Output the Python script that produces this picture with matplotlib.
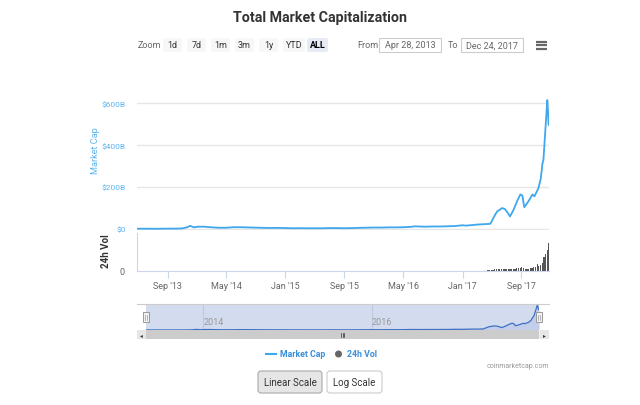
import numpy as np
import pandas as pd
import matplotlib
matplotlib.use("Agg")
import matplotlib.pyplot as plt
import matplotlib.dates as mdates
from matplotlib.patches import FancyBboxPatch, Rectangle, Circle

plt.rcParams['font.family'] = ['Roboto', 'DejaVu Sans']

# Total market cap (billions USD)
cap_dates = ['2013-04-28', '2013-06-01', '2013-07-01', '2013-08-01', '2013-09-01', '2013-10-01',
             '2013-11-01', '2013-11-20', '2013-12-04', '2013-12-18', '2014-01-05', '2014-02-01',
             '2014-03-01', '2014-04-01', '2014-05-01', '2014-06-01', '2014-07-01', '2014-08-01',
             '2014-09-01', '2014-10-01', '2014-11-01', '2014-12-01', '2015-01-01', '2015-02-01',
             '2015-03-01', '2015-04-01', '2015-05-01', '2015-06-01', '2015-07-01', '2015-08-01',
             '2015-09-01', '2015-10-01', '2015-11-01', '2015-12-01', '2016-01-01', '2016-02-01',
             '2016-03-01', '2016-04-01', '2016-05-01', '2016-06-01', '2016-06-18', '2016-07-01',
             '2016-08-01', '2016-09-01', '2016-10-01', '2016-11-01', '2016-12-01', '2017-01-01',
             '2017-01-15', '2017-02-01', '2017-02-15', '2017-03-01', '2017-03-15', '2017-04-01',
             '2017-04-15', '2017-04-26', '2017-05-17', '2017-05-25', '2017-06-01', '2017-06-14',
             '2017-06-25', '2017-07-05', '2017-07-16', '2017-07-30', '2017-08-15', '2017-08-28',
             '2017-09-05', '2017-09-13', '2017-09-30', '2017-10-17', '2017-10-25', '2017-11-10',
             '2017-11-20', '2017-11-27', '2017-12-01', '2017-12-09', '2017-12-17', '2017-12-20',
             '2017-12-22', '2017-12-24']
cap_values = [1.6, 1.4, 1.1, 1.3, 1.7, 1.8,
              2.7, 8, 15, 8, 11, 11,
              8, 6, 6, 8.5, 8.5, 7.5,
              6.5, 5.5, 5, 5.3, 4.4, 3.5,
              3.9, 3.6, 3.6, 3.5, 4.5, 4.3,
              3.8, 4.2, 5.5, 6.2, 7, 6.9,
              7.8, 7.8, 8.5, 10, 13, 12,
              11, 12, 12, 13, 14, 18,
              16, 18, 19, 21, 22, 23,
              24, 25, 71, 85, 90, 100,
              95, 80, 60, 90, 135, 165,
              160, 104, 132, 165, 156, 194,
              240, 312, 330, 473, 615, 560,
              500, 496]

# 24h volume (billions USD), weekly through 2017, quarterly before
vol_dates_early = ['2013-05-01', '2013-08-01', '2013-11-01', '2013-12-01', '2014-03-01', '2014-06-01',
                   '2014-09-01', '2014-12-01', '2015-03-01', '2015-06-01', '2015-09-01', '2015-12-01',
                   '2016-03-01', '2016-06-01', '2016-09-01', '2016-12-01']
vol_values_early = [0.05, 0.05, 0.2, 0.4, 0.1, 0.1,
                    0.05, 0.05, 0.05, 0.05, 0.05, 0.1,
                    0.1, 0.2, 0.1, 0.15]
vol_values_2017 = [0.4, 0.5, 0.3, 0.3, 0.3, 0.3, 0.3, 0.4, 0.5, 0.6, 0.6, 0.5, 0.7,
                   0.6, 0.6, 0.8, 0.9, 1.2, 1.5, 2.5, 3.0, 3.5, 3.0, 3.5, 3, 3,
                   2.5, 2.5, 3, 2.5, 3, 3.5, 4.5, 5, 5, 5.5, 4.5, 3, 3,
                   3.5, 4, 5, 6, 6, 10, 7, 8, 12, 20, 25, 30, 40]

tick_dates = ['2013-09-01', '2014-05-01', '2015-01-01', '2015-09-01', '2016-05-01', '2017-01-01', '2017-09-01']
cap_ticks = [0, 200, 400, 600]
cap_tick_labels = ['$0', '$200B', '$400B', '$600B']
nav_year_ticks = ['2014-01-01', '2016-01-01']
zoom_buttons = ['1d', '7d', '1m', '3m', '1y', 'YTD', 'ALL']
date_from = 'Apr 28, 2013'
date_to = 'Dec 24, 2017'

cap_x = pd.to_datetime(cap_dates)
vol_x = list(pd.to_datetime(vol_dates_early)) + list(pd.date_range('2017-01-01', periods=len(vol_values_2017), freq='7D'))
vol_y = vol_values_early + vol_values_2017
x0, x1 = pd.Timestamp('2013-04-28'), pd.Timestamp('2017-12-24')

W, H = 640, 406
fig = plt.figure(figsize=(6.4, 4.06), dpi=100)


def px_axes(left, top, right, bottom, **kw):
    return fig.add_axes([left / W, 1 - bottom / H, (right - left) / W, (bottom - top) / H], **kw)


line_c = '#3fa7ee'
axis_c = '#ccd6eb'
grid_c = '#e6e6e6'
label_c = '#5bb5f0'
px_per_200 = 41.9

# main market cap pane
ax = px_axes(137, 90, 549, 231)
ax.plot(cap_x, cap_values, color=line_c, linewidth=1.3)
ax.set_xlim(x0, x1)
ax.set_ylim(-200 * 1 / px_per_200, 200 * 140 / px_per_200)
ax.set_yticks(cap_ticks)
ax.set_yticklabels(cap_tick_labels, color=label_c, fontsize=6)
ax.tick_params(axis='y', length=0, pad=8)
ax.grid(axis='y', color=grid_c, linewidth=1)
ax.set_axisbelow(True)
ax.set_xticks(pd.to_datetime(tick_dates))
ax.tick_params(axis='x', length=0, labelbottom=False)
for s in ax.spines.values():
    s.set_visible(False)
ax.set_ylabel('Market Cap', color=label_c, fontsize=6.6)
ax.yaxis.set_label_coords(-0.09, 0.57)

# volume pane
axv = px_axes(137, 234, 549, 272)
axv.bar(vol_x, vol_y, width=5, color='#555555', linewidth=0)
axv.set_xlim(x0, x1)
axv.set_ylim(0, 55)
axv.set_yticks([0])
axv.tick_params(axis='y', length=0, labelsize=6.5, labelcolor='#666666', pad=9)
axv.set_xticks(pd.to_datetime(tick_dates))
axv.xaxis.set_major_formatter(mdates.DateFormatter("%b '%y"))
axv.tick_params(axis='x', length=5, color=axis_c, labelsize=6.5, labelcolor='#666666', pad=2)
for k in ['top', 'right']:
    axv.spines[k].set_visible(False)
axv.spines['left'].set_color(axis_c)
axv.spines['bottom'].set_color(axis_c)
axv.set_ylabel('24h Vol', color='#333333', fontsize=7, fontweight='bold')
axv.yaxis.set_label_coords(-0.064, 0.56)

# navigator
axn = px_axes(146, 305, 539, 331)
axn.set_facecolor('#d3dbee')
axn.fill_between(cap_x, cap_values, color='#c3cfea', linewidth=0)
axn.plot(cap_x, cap_values, color='#3d6fc4', linewidth=0.9)
axn.set_xlim(x0, x1)
axn.set_ylim(0, 640)
axn.set_xticks(pd.to_datetime(nav_year_ticks))
axn.grid(axis='x', color='#bfc8dd', linewidth=0.8)
axn.xaxis.set_major_formatter(mdates.DateFormatter('%Y'))
axn.tick_params(axis='x', length=0, labelsize=6.5, labelcolor='#999999', direction='in', pad=-9)
for lab in axn.get_xticklabels():
    lab.set_horizontalalignment('left')
axn.set_yticks([])
for s in axn.spines.values():
    s.set_visible(False)

# overlay in pixel coordinates for the widgets
ov = fig.add_axes([0, 0, 1, 1], zorder=10)
ov.set_xlim(0, W)
ov.set_ylim(H, 0)
ov.axis('off')
ov.patch.set_visible(False)

ov.text(320, 18, 'Total Market Capitalization', ha='center', va='center', fontsize=10.3,
        fontweight='bold', color='#333333')

ov.text(138, 46, 'Zoom', ha='left', va='center', fontsize=6.5, color='#666666')
bx = [163, 187, 211, 235, 259, 283, 307]
bw = [19, 19, 19, 19, 19, 22, 21]
for lab, xb, wb in zip(zoom_buttons, bx, bw):
    sel = lab == 'ALL'
    ov.add_patch(FancyBboxPatch((xb, 39), wb, 14, boxstyle='round,pad=0,rounding_size=2',
                                facecolor='#e6ebf5' if sel else '#f7f7f7', edgecolor='none'))
    ov.text(xb + wb / 2, 46, lab, ha='center', va='center', fontsize=6.5,
            color='#000000' if sel else '#333333', fontweight='bold' if sel else 'normal')
ov.text(357, 46, 'From', ha='left', va='center', fontsize=6.5, color='#666666')
ov.add_patch(Rectangle((379, 39), 62, 14, facecolor='white', edgecolor='#cccccc', linewidth=0.8))
ov.text(410, 46, date_from, ha='center', va='center', fontsize=6.5, color='#666666')
ov.text(448, 46, 'To', ha='left', va='center', fontsize=6.5, color='#666666')
ov.add_patch(Rectangle((461, 39), 62, 14, facecolor='white', edgecolor='#cccccc', linewidth=0.8))
ov.text(492, 46, date_to, ha='center', va='center', fontsize=6.5, color='#666666')
for yy in [42.5, 46, 49.5]:
    ov.plot([536, 547], [yy, yy], color='#666666', linewidth=1.6, solid_capstyle='butt')

# navigator outline, handles, scrollbar
ov.plot([137, 549], [305, 305], color='#cccccc', linewidth=0.8)
for hx in [146, 539]:
    ov.add_patch(Rectangle((hx - 3, 313), 6, 10, facecolor='#f2f2f2', edgecolor='#999999', linewidth=0.7))
    ov.plot([hx - 0.8, hx - 0.8], [315.5, 320.5], color='#999999', linewidth=0.5)
    ov.plot([hx + 0.8, hx + 0.8], [315.5, 320.5], color='#999999', linewidth=0.5)
ov.add_patch(Rectangle((137, 331), 412, 9, facecolor='#f2f2f2', edgecolor='none'))
ov.add_patch(Rectangle((146, 331), 393, 9, facecolor='#cccccc', edgecolor='none'))
ov.add_patch(Rectangle((137, 331), 9, 9, facecolor='#e6e6e6', edgecolor='none'))
ov.add_patch(Rectangle((540, 331), 9, 9, facecolor='#e6e6e6', edgecolor='none'))
ov.text(141.5, 335.5, '◂', ha='center', va='center', fontsize=4, color='#333333')
ov.text(544.5, 335.5, '▸', ha='center', va='center', fontsize=4, color='#333333')
for dx in [-1.6, 0, 1.6]:
    ov.plot([342.5 + dx, 342.5 + dx], [333.5, 337.5], color='#333333', linewidth=0.5)

# legend
ov.plot([266, 276], [355, 355], color=line_c, linewidth=1.5)
ov.text(280, 355, 'Market Cap', ha='left', va='center', fontsize=6.3, fontweight='bold', color='#3a8fd9')
ov.add_patch(Circle((338.5, 355), 3.5, facecolor='#666666', edgecolor='none'))
ov.text(347, 355, '24h Vol', ha='left', va='center', fontsize=6.3, fontweight='bold', color='#3a8fd9')
ov.text(549, 367, 'coinmarketcap.com', ha='right', va='center', fontsize=5, color='#999999')

# scale buttons
ov.add_patch(FancyBboxPatch((258, 372), 64, 22, boxstyle='round,pad=0,rounding_size=3',
                            facecolor='#e6e6e6', edgecolor='#aaaaaa', linewidth=0.8))
ov.text(290, 383, 'Linear Scale', ha='center', va='center', fontsize=7, color='#333333')
ov.add_patch(FancyBboxPatch((327, 372), 55, 22, boxstyle='round,pad=0,rounding_size=3',
                            facecolor='white', edgecolor='#cccccc', linewidth=0.8))
ov.text(354.5, 383, 'Log Scale', ha='center', va='center', fontsize=7, color='#333333')

fig.savefig('out.png', dpi=100)
